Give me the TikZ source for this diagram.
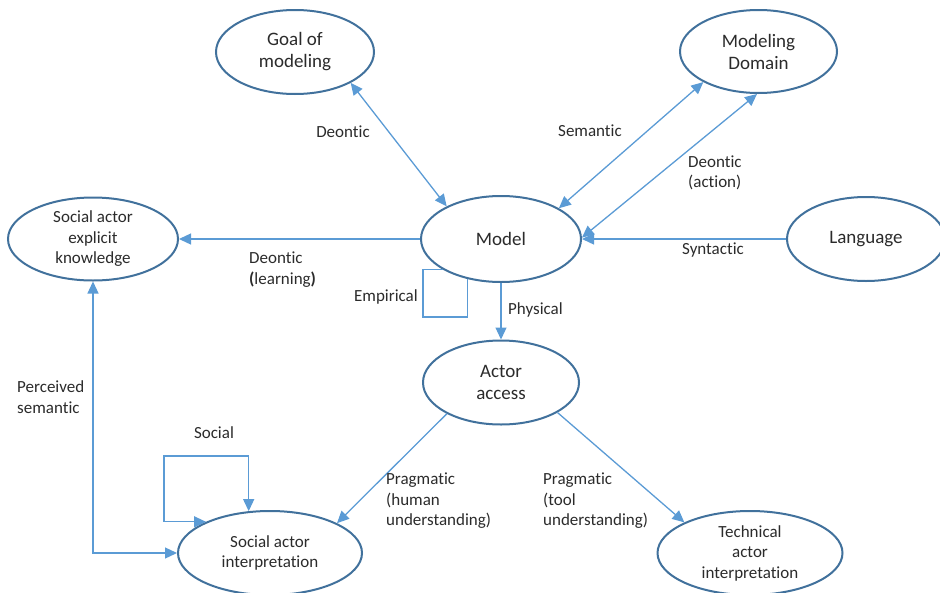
\documentclass[tikz,border=0pt]{standalone}
\usepackage{fontspec}
\setmainfont{Carlito}[Ligatures={NoCommon,NoContextual}]
\usetikzlibrary{shapes.geometric,arrows.meta}
\definecolor{ringblue}{HTML}{41719C}
\definecolor{linkblue}{HTML}{5B9BD5}
\definecolor{inkgray}{HTML}{2B2B2B}
\begin{document}
\begin{tikzpicture}[x=1pt,y=-1pt,
  concept/.style={ellipse,draw=ringblue,line width=2pt,fill=white,inner sep=0pt,
    align=center,text=inkgray,font=\fontsize{19}{22}\selectfont},
  smallconcept/.style={concept,font=\fontsize{17}{20.5}\selectfont},
  link/.style={draw=linkblue,line width=1.3pt,-{Triangle[length=12pt,width=11pt]}},
  twoway/.style={draw=linkblue,line width=1.3pt,
    {Triangle[length=12pt,width=11pt]}-{Triangle[length=12pt,width=11pt]}},
  loopline/.style={draw=linkblue,line width=1.3pt},
  lbl/.style={text=inkgray,font=\fontsize{17}{20.5}\selectfont,align=left,inner sep=0pt}]

\useasboundingbox (0,0) rectangle (940,592);

% concepts
\node[concept,minimum width=158pt,minimum height=84pt] (goal) at (295,52) {Goal of\\modeling};
\node[concept,minimum width=157pt,minimum height=83pt] (domain) at (758.5,51.5) {Modeling\\Domain};
\node[smallconcept,minimum width=170pt,minimum height=83pt] (know) at (93,239) {Social actor\\explicit\\knowledge};
\node[concept,minimum width=160pt,minimum height=86pt] (model) at (501,239) {Model};
\node[concept,minimum width=158pt,minimum height=84pt] (lang) at (866,239) {Language};
\node[concept,minimum width=156pt,minimum height=84pt] (actor) at (501,382.5) {Actor\\access};
\node[smallconcept,minimum width=184pt,minimum height=84pt] (sai) at (270,553) {Social actor\\interpretation};
\node[smallconcept,minimum width=185pt,minimum height=84pt] (tai) at (750,553) {Technical\\actor\\interpretation};

% corners of the two self loops
\coordinate (empcorner) at (423,317);
\coordinate (soccorner) at (164,456);

% relations
\draw[twoway] (goal.-29.6) -- (model.149.5);
\draw[twoway] (domain.-151.6) -- (model.28.5);
\draw[twoway] (domain.-92) -- (model.1);
\draw[link] (model.west) -- (know.east);
\draw[link] (lang.west) -- (model.east);
\draw[loopline] (model.-152) -| (empcorner) -| (model.-130);
\draw[link] (model.south) -- (actor.north);
\draw[link] (actor.-150.3) -- (sai.24.8);
\draw[link] (actor.-28.9) -- (tai.155.2);
\draw[twoway] (know.south) |- (sai.west);
\draw[twoway] (sai.154.5) -| (soccorner) -| (sai.117.2);

% relation labels
\node[lbl] (lgoal) at (343,132) {Deontic};
\node[lbl] (lsem) at (590,131) {Semantic};
\node[lbl,anchor=west] (laction) at (688,173) {Deontic\\(action)};
\node[lbl,anchor=west] (llearn) at (249,269.5) {Deontic\\\textbf{(}learning\textbf{)}};
\node[lbl] (lsyn) at (713,250) {Syntactic};
\node[lbl,anchor=east] (lemp) at (418,297) {Empirical};
\node[lbl,anchor=west] (lphys) at (508,310) {Physical};
\node[lbl,anchor=west] (lperc) at (17,397) {Perceived\\semantic};
\node[lbl] (lsoc) at (214,433) {Social};
\node[lbl,anchor=west] (lhuman) at (386,501) {Pragmatic\\(human\\understanding)};
\node[lbl,anchor=west] (ltool) at (543,501) {Pragmatic\\(tool\\understanding)};
\end{tikzpicture}
\end{document}
